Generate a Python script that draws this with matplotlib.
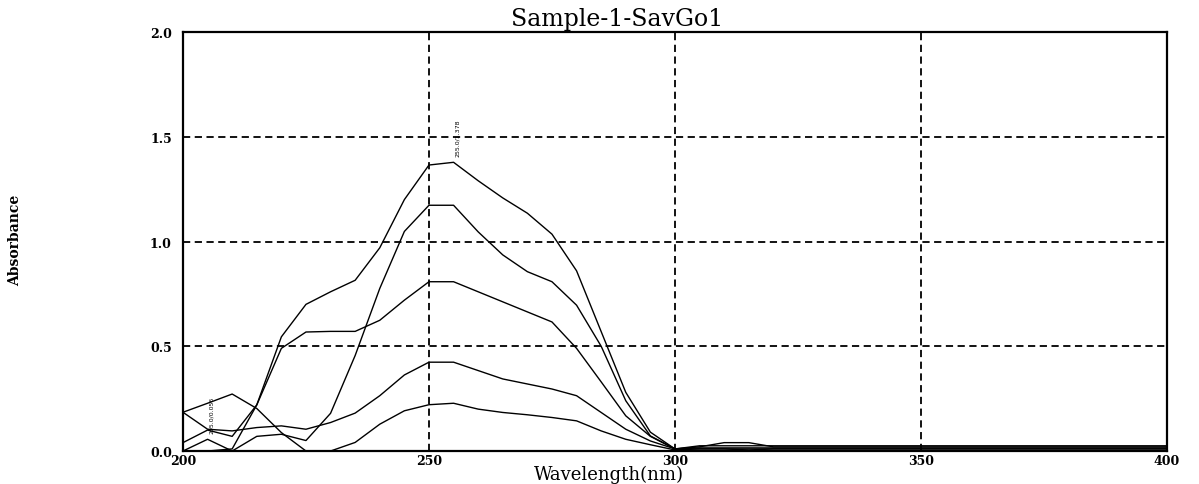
import numpy as np
import matplotlib
matplotlib.use("Agg")
import matplotlib.pyplot as plt

# Espectros UV-Vis (absorbância) amostrados a cada 5 nm
wavelength = np.arange(200, 401, 5)

spec1 = [0.00, 0.00, 0.01, 0.22, 0.545, 0.70, 0.76, 0.815, 0.97, 1.20, 1.365,
         1.378, 1.29, 1.208, 1.135, 1.035, 0.86, 0.57, 0.28, 0.09, 0.01] + \
        [0.025] * 20
spec2 = [0.00, 0.056, 0.00, 0.07, 0.08, 0.05, 0.18, 0.456, 0.776, 1.048, 1.173,
         1.173, 1.046, 0.936, 0.856, 0.808, 0.696, 0.50, 0.24, 0.072, 0.01] + \
        [0.02, 0.04, 0.04, 0.02] + [0.02] * 16
spec3 = [0.04, 0.10, 0.07, 0.22, 0.49, 0.568, 0.571, 0.571, 0.624, 0.72, 0.808,
         0.808, 0.76, 0.712, 0.664, 0.616, 0.49, 0.33, 0.168, 0.07, 0.01] + \
        [0.015] * 20
spec4 = [0.185, 0.104, 0.096, 0.112, 0.12, 0.104, 0.136, 0.181, 0.264, 0.363, 0.424,
         0.424, 0.384, 0.344, 0.32, 0.296, 0.264, 0.184, 0.104, 0.048, 0.01] + \
        [0.01] * 20
spec5 = [0.185, 0.228, 0.272, 0.203, 0.088, 0.0, 0.0, 0.041, 0.128, 0.192, 0.221,
         0.228, 0.20, 0.184, 0.173, 0.16, 0.144, 0.096, 0.056, 0.03, 0.005] + \
        [0.01, 0.01, 0.005, 0.01] + [0.01] * 16

spectra = [spec1, spec2, spec3, spec4, spec5]

# picos marcados no gráfico (comprimento de onda, absorbância)
peak_main = (255.0, 1.378)
peak_small = (205.0, 0.056)

fig = plt.figure(figsize=(11.99, 4.85), dpi=100)
ax = fig.add_axes([0.1526, 0.068, 0.8207, 0.864])

for s in spectra:
    ax.plot(wavelength, s, color="black", lw=1.0)

ax.set_xlim(200, 400)
ax.set_ylim(0, 2.0)
ax.set_xticks([200, 250, 300, 350, 400])
ax.set_yticks([0.0, 0.5, 1.0, 1.5, 2.0])
ax.set_yticklabels(["0.0", "0.5", "1.0", "1.5", "2.0"])

ax.grid(True, color="black", lw=1.3, linestyle=(0, (4, 2.5)))
ax.tick_params(length=0, labelsize=9)
ax.tick_params(axis="x", pad=2)
ax.tick_params(axis="y", pad=8)
for lab in ax.get_xticklabels() + ax.get_yticklabels():
    lab.set_fontfamily("DejaVu Serif")
    lab.set_fontweight("bold")

for sp in ax.spines.values():
    sp.set_linewidth(1.6)
    sp.set_color("black")

# rótulos dos picos
for px, py in [peak_main, peak_small]:
    ax.text(px + 0.8, py + 0.03, f"{px:.1f}/{py:.3f}", rotation=90,
            fontsize=4.5, family="DejaVu Sans", ha="center", va="bottom")

ax.text(0.441, 1.005, "Sample-1-SavGo1", transform=ax.transAxes,
        ha="center", va="bottom", fontsize=17, family="DejaVu Serif")
fig.text(0.508, 0.002, "Wavelength(nm)", ha="center", va="bottom",
         fontsize=13, family="DejaVu Serif")
fig.text(0.013, 0.505, "Absorbance", rotation=90, ha="center", va="center",
         fontsize=10, family="DejaVu Serif", fontweight="bold")

fig.savefig("out.png", dpi=100)
